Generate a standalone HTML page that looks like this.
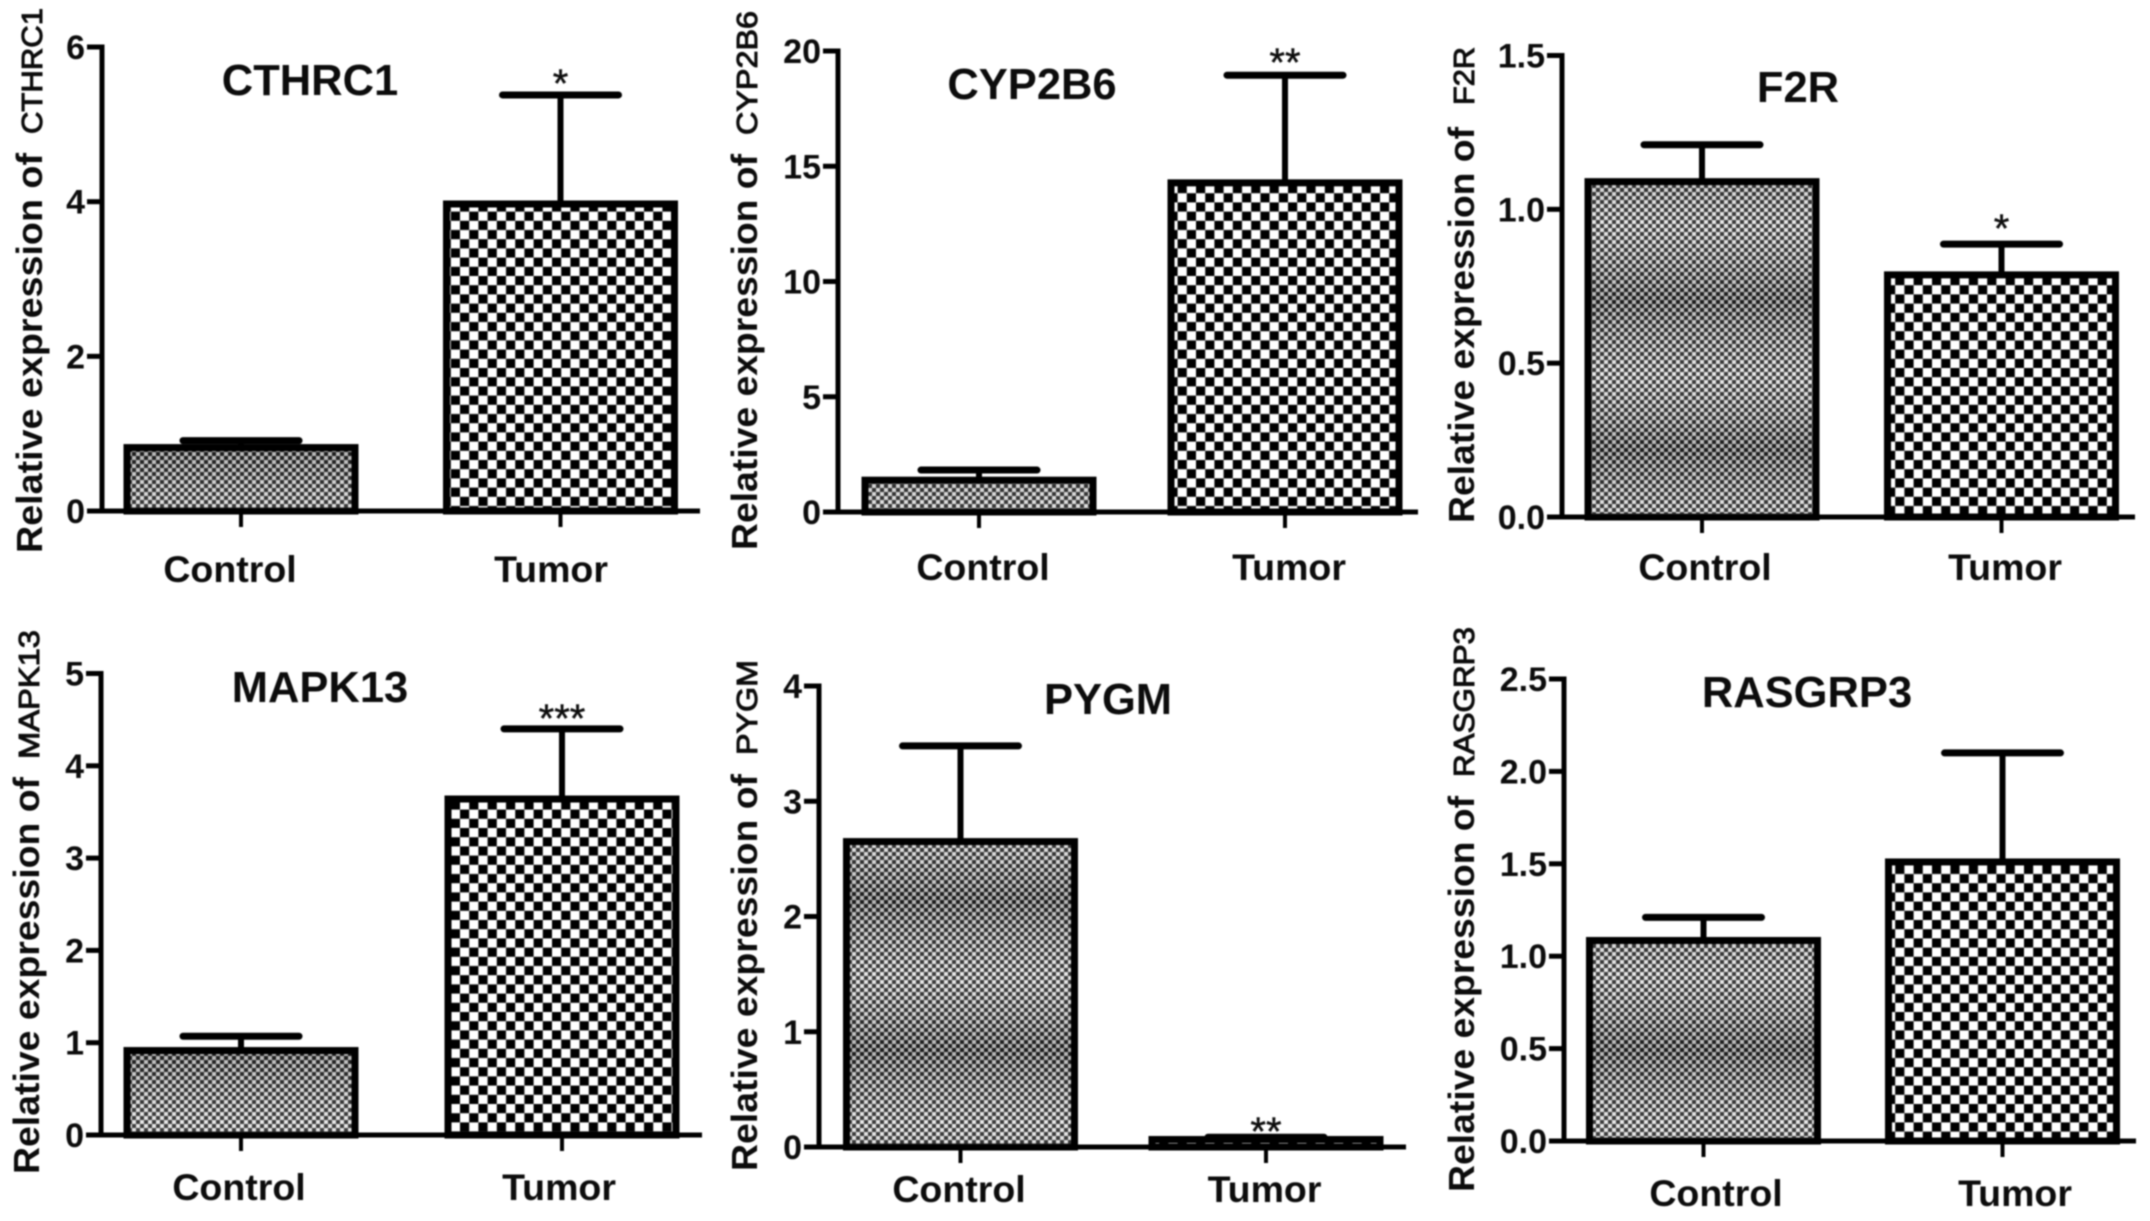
<!DOCTYPE html>
<html lang="en">
<head>
<meta charset="utf-8">
<title>Relative expression of six genes in control and tumor tissue</title>
<style>
  html, body { margin: 0; padding: 0; background: #fff; width: 2150px; height: 1221px; overflow: hidden; }
  #figure { display: block; filter: blur(0.8px); }
  text { font-family: "Liberation Sans", sans-serif; fill: #0c0c0c; }
</style>
</head>
<body>
<svg id="figure" xmlns="http://www.w3.org/2000/svg" width="2150" height="1221" viewBox="0 0 2150 1221">
  <defs>
    <pattern id="fine-check" patternUnits="userSpaceOnUse" width="8" height="8">
      <rect width="8" height="8" fill="#e4e4e4"/>
      <rect width="4" height="4" fill="#222"/>
      <rect x="4" y="4" width="4" height="4" fill="#222"/>
    </pattern>
    <pattern id="coarse-check" patternUnits="userSpaceOnUse" width="18.4" height="18.4">
      <rect width="18.4" height="18.4" fill="#fff"/>
      <rect width="9.2" height="9.2" fill="#000"/>
      <rect x="9.2" y="9.2" width="9.2" height="9.2" fill="#000"/>
    </pattern>
    <linearGradient id="moire-bands" gradientUnits="userSpaceOnUse" x1="0" y1="0" x2="0" y2="75" spreadMethod="reflect">
      <stop offset="0" stop-color="#000" stop-opacity="0.22"/>
      <stop offset="1" stop-color="#fff" stop-opacity="0.12"/>
    </linearGradient>
  </defs>
</svg>
<script>
const genes = ['CTHRC1', 'CYP2B6', 'F2R', 'MAPK13', 'PYGM', 'RASGRP3'];
const categories = ['Control', 'Tumor'];
const controlMeans = [0.82, 1.38, 1.09, 0.915, 2.65, 1.085];
const tumorMeans = [3.97, 14.28, 0.787, 3.64, 0.065, 1.51];
const controlErrorTops = [0.91, 1.82, 1.21, 1.07, 3.48, 1.21];
const tumorErrorTops = [5.38, 18.95, 0.887, 4.4, 0.085, 2.10];
const yMaxima = [6, 20, 1.5, 5, 4, 2.5];
const yTickLabels = [
  ['0', '2', '4', '6'],
  ['0', '5', '10', '15', '20'],
  ['0.0', '0.5', '1.0', '1.5'],
  ['0', '1', '2', '3', '4', '5'],
  ['0', '1', '2', '3', '4'],
  ['0.0', '0.5', '1.0', '1.5', '2.0', '2.5']
];
const significance = ['*', '**', '*', '***', '**', ''];

const panelLayouts = [
  { axisX: 102, y0: 511, yTop: 47, xEnd: 700, centers: [241, 560.5], titleX: 310, titleY: 95, labelX: [230, 551], labelY: 582, ylabX: 42, ylabStart: 553, ylabLen: 400, geneStart: 134, geneLen: 126, sigShift: 2 },
  { axisX: 838, y0: 512, yTop: 51, xEnd: 1418, centers: [979, 1285], titleX: 1032, titleY: 99, labelX: [983, 1289], labelY: 580, ylabX: 757, ylabStart: 550, ylabLen: 396, geneStart: 135, geneLen: 124, sigShift: 1 },
  { axisX: 1562, y0: 517, yTop: 55.5, xEnd: 2135, centers: [1702, 2001.5], titleX: 1798, titleY: 102, labelX: [1705, 2005], labelY: 580, ylabX: 1474, ylabStart: 523, ylabLen: 396, geneStart: 105, geneLen: 58, sigShift: -2 },
  { axisX: 101, y0: 1135, yTop: 673.5, xEnd: 702, centers: [241, 562], titleX: 320, titleY: 702, labelX: [239, 559], labelY: 1200, ylabX: 39, ylabStart: 1174, ylabLen: 397, geneStart: 759, geneLen: 129, sigShift: 3 },
  { axisX: 819, y0: 1147, yTop: 686, xEnd: 1406, centers: [960.5, 1266], titleX: 1108, titleY: 714, labelX: [959, 1264.5], labelY: 1202, ylabX: 757, ylabStart: 1171, ylabLen: 397, geneStart: 755, geneLen: 95, sigShift: 8 },
  { axisX: 1564, y0: 1141, yTop: 679, xEnd: 2136, centers: [1703.5, 2002.5], titleX: 1807, titleY: 707, labelX: [1716, 2015], labelY: 1206, ylabX: 1474, ylabStart: 1192, ylabLen: 396, geneStart: 777, geneLen: 150, sigShift: 0 }
];

const SVG_NS = 'http://www.w3.org/2000/svg';
const figure = document.getElementById('figure');

function make(parent, tag, attrs, content) {
  const node = document.createElementNS(SVG_NS, tag);
  Object.keys(attrs).forEach(function (key) { node.setAttribute(key, attrs[key]); });
  if (content !== undefined) node.textContent = content;
  parent.appendChild(node);
  return node;
}

function yScale(layout, maxValue) {
  return function (value) {
    return layout.y0 - (value / maxValue) * (layout.y0 - layout.yTop);
  };
}

function drawPanel(index) {
  const layout = panelLayouts[index];
  const gene = genes[index];
  const y = yScale(layout, yMaxima[index]);
  const means = [controlMeans[index], tumorMeans[index]];
  const errorTops = [controlErrorTops[index], tumorErrorTops[index]];

  const panel = make(figure, 'g', {});
  
  

  // bars and error bars
  categories.forEach(function (category, c) {
    const cx = layout.centers[c];
    const slug = category.toLowerCase();

    const stem = make(panel, 'line', { x1: cx, x2: cx, y1: y(means[c]), y2: y(errorTops[c]), stroke: '#000', 'stroke-width': 6 });
    
    

    const cap = make(panel, 'line', { x1: cx - 58, x2: cx + 58, y1: y(errorTops[c]), y2: y(errorTops[c]), stroke: '#000', 'stroke-width': 7, 'stroke-linecap': 'round' });
    
    

    const barAttrs = { x: cx - 114, y: y(means[c]), width: 228, height: layout.y0 - y(means[c]), stroke: '#000', 'stroke-width': 7 };
    barAttrs.fill = c === 0 ? 'url(#fine-check)' : 'url(#coarse-check)';
    const bar = make(panel, 'rect', barAttrs);
    
    

    if (c === 0) {
      const moire = make(panel, 'rect', { x: cx - 110.5, y: y(means[c]) + 3.5, width: 221, height: Math.max(0, layout.y0 - y(means[c]) - 3.5), fill: 'url(#moire-bands)' });
      
      
    }

    const tick = make(panel, 'line', { x1: cx, x2: cx, y1: layout.y0, y2: layout.y0 + 16, stroke: '#000', 'stroke-width': 4 });
    
    

    const label = make(panel, 'text', { x: layout.labelX[c], y: layout.labelY, 'text-anchor': 'middle', 'font-size': 37.5, 'font-weight': 700 }, category);
    
    
  });

  // axes
  const yAxis = make(panel, 'line', { x1: layout.axisX, x2: layout.axisX, y1: layout.yTop - 2.5, y2: layout.y0 + 2, stroke: '#000', 'stroke-width': 5 });
  
  

  const xAxis = make(panel, 'line', { x1: layout.axisX - 15, x2: layout.xEnd, y1: layout.y0, y2: layout.y0, stroke: '#000', 'stroke-width': 5 });
  
  

  yTickLabels[index].forEach(function (labelText) {
    const value = parseFloat(labelText);
    const tickMark = make(panel, 'line', { x1: layout.axisX - 15, x2: layout.axisX, y1: y(value), y2: y(value), stroke: '#000', 'stroke-width': 5 });
    
    

    const tickText = make(panel, 'text', { x: layout.axisX - 17, y: y(value) + 12, 'text-anchor': 'end', 'font-size': 34, 'font-weight': 700 }, labelText);
    
    
  });

  // titles
  const title = make(panel, 'text', { x: layout.titleX, y: layout.titleY, 'text-anchor': 'middle', 'font-size': 43.5, 'font-weight': 700 }, gene);
  
  

  const yTitle = make(panel, 'text', {
    transform: 'translate(' + layout.ylabX + ',' + layout.ylabStart + ') rotate(-90)',
    'font-size': 36, 'font-weight': 700, textLength: layout.ylabLen, lengthAdjust: 'spacingAndGlyphs'
  }, 'Relative expression of');
  
  

  const yGene = make(panel, 'text', {
    transform: 'translate(' + layout.ylabX + ',' + layout.geneStart + ') rotate(-90)',
    'font-size': 29, stroke: '#0c0c0c', 'stroke-width': 1, textLength: layout.geneLen, lengthAdjust: 'spacingAndGlyphs'
  }, gene);
  
  

  // significance marker above the tumor bar
  if (significance[index]) {
    const star = make(panel, 'text', {
      x: layout.centers[1], y: y(tumorErrorTops[index]) + layout.sigShift, 'text-anchor': 'middle', 'font-size': 40, fill: '#222', stroke: '#222', 'stroke-width': 0.5
    }, significance[index]);
    
    
  }
}

genes.forEach(function (gene, index) { drawPanel(index); });
</script>
</body>
</html>
